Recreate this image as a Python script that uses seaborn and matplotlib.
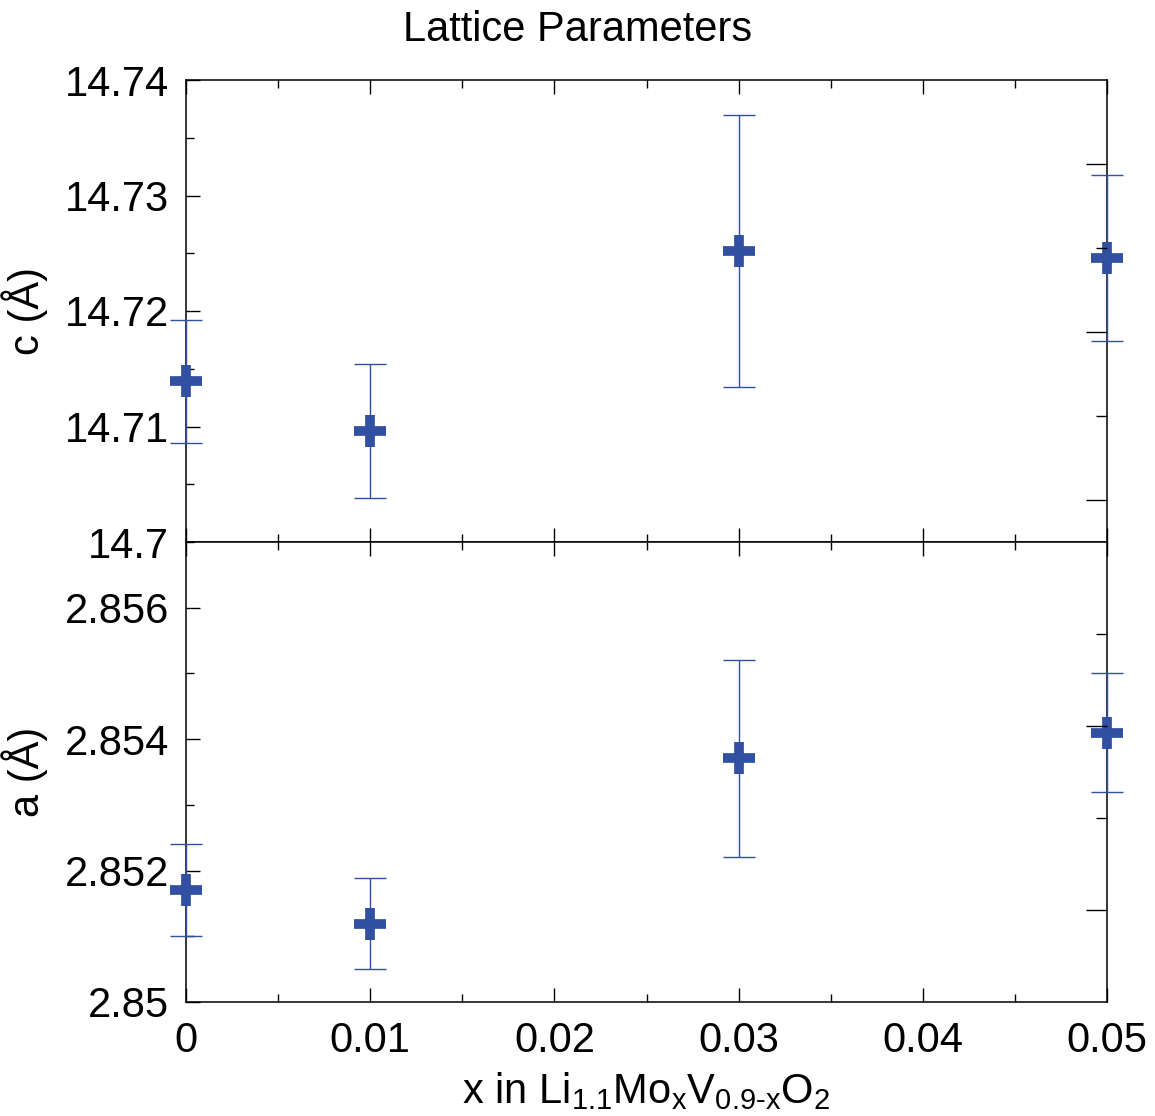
import matplotlib
matplotlib.use("Agg")
import matplotlib.pyplot as plt
import seaborn as sns
import pandas as pd
from matplotlib.ticker import MultipleLocator, FixedLocator, FixedFormatter

sns.set_theme(style="ticks")
plt.rcParams['font.family'] = ['Liberation Sans', 'DejaVu Sans']
plt.rcParams['mathtext.fontset'] = 'custom'
plt.rcParams['mathtext.rm'] = 'Liberation Sans'
plt.rcParams['mathtext.it'] = 'Liberation Sans'
for k in ('text.color', 'axes.labelcolor', 'xtick.color', 'ytick.color', 'axes.edgecolor'):
    plt.rcParams[k] = 'black'

# data
x_vals = [0.0, 0.01, 0.03, 0.05]
c_vals = [14.7139, 14.7096, 14.7252, 14.7246]
c_err = [0.0053, 0.0058, 0.0118, 0.0072]
a_vals = [2.85170, 2.85119, 2.85371, 2.85410]
a_err = [0.00070, 0.00069, 0.00150, 0.00090]

x_ticks = [0, 0.01, 0.02, 0.03, 0.04, 0.05]
x_ticklabels = ['0', '0.01', '0.02', '0.03', '0.04', '0.05']
c_ticks = [14.70, 14.71, 14.72, 14.73, 14.74]
c_ticklabels = ['14.7', '14.71', '14.72', '14.73', '14.74']
a_ticks = [2.850, 2.852, 2.854, 2.856]
a_ticklabels = ['2.85', '2.852', '2.854', '2.856']

df = pd.DataFrame({'x': x_vals, 'c': c_vals, 'c_err': c_err, 'a': a_vals, 'a_err': a_err})

blue = '#3150a2'
FS = 30

fig = plt.figure(figsize=(11.55, 11.16), dpi=100)
L, R = 186 / 1155, 1107 / 1155
ax1 = fig.add_axes([L, 1 - 542 / 1116, R - L, (542 - 80) / 1116])
ax2 = fig.add_axes([L, 1 - 1002 / 1116, R - L, (1002 - 542) / 1116], sharex=ax1)


def draw(ax, col, ecol):
    ax.errorbar(df['x'], df[col], yerr=df[ecol], fmt='none', ecolor=blue,
                elinewidth=1.0, capsize=11.5, capthick=1.0, clip_on=False, zorder=3)
    sns.scatterplot(data=df, x='x', y=col, ax=ax, marker='+', s=560,
                    color=blue, linewidth=7.0, clip_on=False, zorder=4, legend=False)


draw(ax1, 'c', 'c_err')
draw(ax2, 'a', 'a_err')

ax1.set_xlim(0, 0.05)
ax1.set_ylim(14.70, 14.74)
ax2.set_ylim(2.850, 2.857)

for ax in (ax1, ax2):
    for s in ax.spines.values():
        s.set_linewidth(1.1)
        s.set_color('black')
    ax.xaxis.set_major_locator(FixedLocator(x_ticks))
    ax.xaxis.set_minor_locator(MultipleLocator(0.005))
    ax.tick_params(axis='both', which='major', direction='in', length=10, width=1.0,
                   labelsize=FS, top=True, bottom=True, left=True, right=False, color='black',
                   labelcolor='black')
    ax.tick_params(axis='both', which='minor', direction='in', length=6, width=1.0,
                   top=True, bottom=True, left=True, right=False, color='black')
    ax.set_xlabel('')
    ax.grid(False)

ax1.tick_params(axis='x', labelbottom=False)
ax2.xaxis.set_major_formatter(FixedFormatter(x_ticklabels))
ax2.tick_params(axis='x', pad=14)

ax1.yaxis.set_major_locator(FixedLocator(c_ticks))
ax1.yaxis.set_major_formatter(FixedFormatter(c_ticklabels))
ax1.yaxis.set_minor_locator(MultipleLocator(0.005))
ax2.yaxis.set_major_locator(FixedLocator(a_ticks))
ax2.yaxis.set_major_formatter(FixedFormatter(a_ticklabels))
ax2.yaxis.set_minor_locator(MultipleLocator(0.001))
for ax in (ax1, ax2):
    ax.tick_params(axis='y', pad=12)

ax1.set_ylabel('c (Å)', fontsize=FS, labelpad=12)
ax2.set_ylabel('a (Å)', fontsize=FS, labelpad=12)

# right-hand independent tick axes
r1 = ax1.twinx()
r1.set_ylim(-0.5, 5.0)
r1.yaxis.set_major_locator(FixedLocator([0, 2, 4]))
r1.yaxis.set_minor_locator(FixedLocator([1, 3]))
r2 = ax2.twinx()
r2.set_ylim(-1.0, 4.0)
r2.yaxis.set_major_locator(FixedLocator([0, 2]))
r2.yaxis.set_minor_locator(FixedLocator([1, 3]))
for r in (r1, r2):
    r.tick_params(axis='y', which='major', direction='in', length=15, width=1.0, labelright=False, color='black')
    r.tick_params(axis='y', which='minor', direction='in', length=8, width=1.0, color='black')
    r.grid(False)
    for s in r.spines.values():
        s.set_visible(False)

ax2.set_xlabel(r'x in Li$_{\mathrm{1.1}}$Mo$_{\mathrm{x}}$V$_{\mathrm{0.9\text{-}x}}$O$_{\mathrm{2}}$',
               fontsize=FS, labelpad=6)
fig.text(0.5, 1 - 30 / 1116, 'Lattice Parameters', fontsize=FS, ha='center', va='center')

fig.savefig('out.png', dpi=100)
